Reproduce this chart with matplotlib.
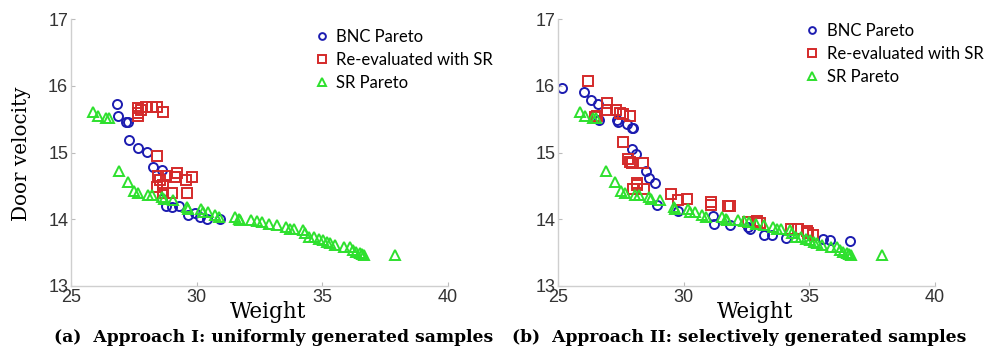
import numpy as np
import matplotlib
matplotlib.use("Agg")
import matplotlib.pyplot as plt

# --- data ---
# (a) approach I
bnc_a_w = [26.82, 26.86, 27.19, 27.26, 27.31, 27.66, 28.01, 28.28, 28.61,
           28.61, 28.78, 29.01, 29.31, 29.67, 29.94, 30.14, 30.41, 30.91]
bnc_a_v = [15.72, 15.55, 15.46, 15.45, 15.19, 15.06, 15.01, 14.79, 14.74,
           14.31, 14.20, 14.18, 14.20, 14.07, 14.09, 14.03, 14.00, 14.00]

re_a_w = [27.68, 27.66, 27.68, 27.79, 27.99, 28.24, 28.41, 28.65,
          28.41, 28.48, 28.78, 29.14, 29.21, 29.58, 29.81, 29.61,
          28.41, 28.68, 29.01, 28.68, 28.55]
re_a_v = [15.66, 15.59, 15.55, 15.64, 15.68, 15.68, 15.68, 15.60,
          14.95, 14.65, 14.65, 14.64, 14.69, 14.59, 14.64, 14.39,
          14.48, 14.51, 14.40, 14.39, 14.59]

# (b) approach II
bnc_b_w = [25.15, 26.05, 26.30, 26.61, 26.65, 27.34, 27.37, 27.75, 27.94,
           27.97, 27.95, 28.12, 28.50, 28.62, 28.85, 28.92, 29.76, 31.16,
           31.20, 31.85, 32.55, 32.64, 33.21, 33.50, 34.06, 35.56, 35.82,
           36.62]
bnc_b_v = [15.97, 15.90, 15.79, 15.72, 15.49, 15.48, 15.46, 15.43, 15.37,
           15.36, 15.05, 14.98, 14.72, 14.62, 14.55, 14.22, 14.13, 14.05,
           13.93, 13.91, 13.89, 13.86, 13.76, 13.76, 13.72, 13.70, 13.69,
           13.68]

re_b_w = [26.18, 26.94, 26.94, 27.31, 27.47, 27.57, 27.86, 26.54, 26.47,
          27.57, 27.80, 27.86, 27.93, 28.40, 28.13, 28.16, 28.00, 28.42,
          29.48, 29.79, 30.12, 31.07, 31.07, 31.75, 31.84, 32.57, 32.90,
          33.04, 34.27, 34.54, 34.89, 34.96, 35.16]
re_b_v = [16.07, 15.74, 15.64, 15.64, 15.59, 15.57, 15.55, 15.55, 15.53,
          15.15, 14.90, 14.86, 14.84, 14.85, 14.54, 14.51, 14.46, 14.45,
          14.38, 14.29, 14.31, 14.26, 14.21, 14.20, 14.20, 13.96, 13.97,
          13.95, 13.86, 13.85, 13.83, 13.79, 13.76]

# SR Pareto (same front in both panels)
sr_w = [25.86, 26.09, 26.39, 26.53, 26.91, 27.26, 27.52, 27.66, 28.05,
        28.21, 28.64, 28.72, 29.04, 29.61, 29.67, 30.18, 30.27, 30.47,
        30.74, 30.87, 31.53, 31.67, 31.73, 32.16, 32.40, 32.60, 32.86,
        33.19, 33.57, 33.72, 33.86, 34.23, 34.32, 34.46, 34.65, 34.85,
        35.03, 35.19, 35.32, 35.52, 35.85, 36.12, 36.22, 36.35, 36.49,
        36.58, 36.65, 37.91]
sr_v = [15.61, 15.54, 15.51, 15.51, 14.72, 14.56, 14.42, 14.39, 14.36,
        14.36, 14.34, 14.31, 14.29, 14.19, 14.16, 14.15, 14.11, 14.11,
        14.06, 14.04, 14.03, 14.00, 13.99, 13.99, 13.97, 13.96, 13.93,
        13.91, 13.89, 13.86, 13.85, 13.84, 13.79, 13.74, 13.73, 13.70,
        13.69, 13.66, 13.64, 13.61, 13.59, 13.59, 13.54, 13.51, 13.50,
        13.48, 13.47, 13.46]

labels = ["BNC Pareto", "Re-evaluated with SR", "SR Pareto"]
captions = ["(a)  Approach I: uniformly generated samples",
            "(b)  Approach II: selectively generated samples"]

blue, red, green = "#1c1cb0", "#d42a2a", "#2ee02e"

fig = plt.figure(figsize=(10.03, 3.54), dpi=100)
W, H = 1003, 354

panels = [
    (71, (bnc_a_w, bnc_a_v), (re_a_w, re_a_v), (0.603, 1.02), 274),
    (558, (bnc_b_w, bnc_b_v), (re_b_w, re_b_v), (0.613, 1.04), 739),
]

for i, (x0, bnc, re, legpos, capx) in enumerate(panels):
    ax = fig.add_axes([x0 / W, 1 - 286 / H, 377 / W, 267 / H])
    ax.plot(bnc[0], bnc[1], ls="none", marker="o", ms=6.5, mfc="none",
            mec=blue, mew=1.4, label=labels[0])
    ax.plot(re[0], re[1], ls="none", marker="s", ms=6.8, mfc="none",
            mec=red, mew=1.4, label=labels[1])
    ax.plot(sr_w, sr_v, ls="none", marker="^", ms=7, mfc="none",
            mec=green, mew=1.4, label=labels[2])

    ax.set_xlim(25, 40)
    ax.set_ylim(13, 17)
    ax.set_xticks([25, 30, 35, 40])
    ax.set_yticks([13, 14, 15, 16, 17])
    for s in ["top", "right"]:
        ax.spines[s].set_visible(False)
    for s in ["left", "bottom"]:
        ax.spines[s].set_color("#cfcfcf")
        ax.spines[s].set_linewidth(1.0)
    ax.tick_params(direction="in", length=3, color="#bbbbbb",
                   labelsize=13, labelcolor="#333333", pad=2,
                   labelfontfamily="Liberation Sans")

    ax.legend(loc="upper left", bbox_to_anchor=legpos,
              frameon=False, handletextpad=0.35, labelspacing=0.42,
              markerscale=0.75, handlelength=1.0,
              prop={"family": "Lato", "size": 12})

    fig.text((x0 + 197) / W, 1 - 312 / H, "Weight", ha="center",
             va="center", family="DejaVu Serif", fontsize=15.5)
    fig.text(capx / W, 1 - 338 / H, captions[i], ha="center", va="center",
             family="DejaVu Serif", fontweight="bold", fontsize=12.3)

fig.text(22 / W, 1 - 154 / H, "Door velocity", rotation=90, ha="center",
         va="center", family="DejaVu Serif", fontsize=14.3)

fig.savefig("out.png", dpi=100)
